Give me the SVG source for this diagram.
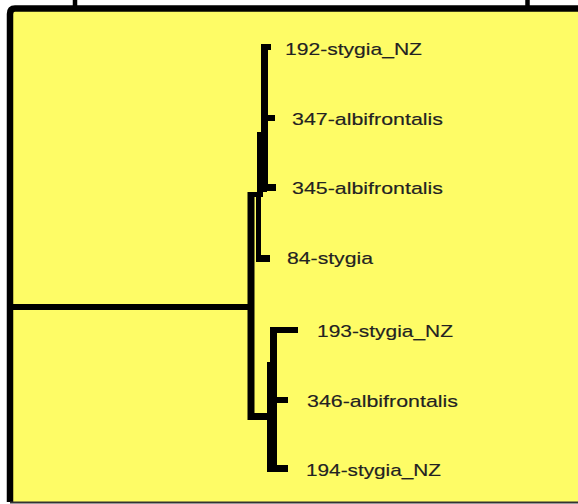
<svg xmlns="http://www.w3.org/2000/svg" width="578" height="504" viewBox="0 0 578 504">
<style>
.br{stroke:#000;fill:none;stroke-linecap:butt}
.lbl{font-family:"Liberation Sans",Arial,sans-serif;font-size:17px;fill:#222;stroke:#222;stroke-width:0.15}
</style>
<rect x="0" y="0" width="578" height="504" fill="#fff"/>
<rect x="10" y="9" width="570" height="493" fill="#FEFC66"/>
<rect x="75" y="-10" width="452.5" height="18.5" fill="#fff" stroke="#000" stroke-width="4.5"/>
<path d="M10,502 L10,14 Q10,8.5 15,8.5 L578,8.5" fill="none" stroke="#000" stroke-width="6.5"/>
<line x1="10" y1="502.5" x2="578" y2="502.5" stroke="#333" stroke-width="2"/>
<g id="connectors">
<line class="br" x1="13" y1="307" x2="254" y2="307" stroke-width="6"/>
<line class="br" x1="251" y1="192" x2="251" y2="420" stroke-width="7"/>
<line class="br" x1="248" y1="194.5" x2="263" y2="194.5" stroke-width="5"/>
<line class="br" x1="248" y1="416.5" x2="273" y2="416.5" stroke-width="7"/>
<line class="br" x1="264.5" y1="44" x2="264.5" y2="190" stroke-width="7"/>
<line class="br" x1="262" y1="132" x2="262" y2="192" stroke-width="10"/>
<line class="br" x1="258.5" y1="192" x2="258.5" y2="262" stroke-width="5"/>
<line class="br" x1="261" y1="47" x2="271" y2="47" stroke-width="6"/>
<line class="br" x1="264" y1="118" x2="275" y2="118" stroke-width="6"/>
<line class="br" x1="264" y1="187.5" x2="276" y2="187.5" stroke-width="7"/>
<line class="br" x1="256" y1="258.5" x2="270" y2="258.5" stroke-width="7"/>
<line class="br" x1="270" y1="330" x2="298" y2="330" stroke-width="6"/>
<line class="br" x1="273.5" y1="327" x2="273.5" y2="472" stroke-width="7"/>
<line class="br" x1="272" y1="362" x2="272" y2="472" stroke-width="10"/>
<line class="br" x1="273" y1="400" x2="288" y2="400" stroke-width="6"/>
<line class="br" x1="270" y1="468.5" x2="288" y2="468.5" stroke-width="7"/>
</g>
<g id="n192"><text class="lbl" x="285" y="55" textLength="137" lengthAdjust="spacingAndGlyphs">192-stygia_NZ</text></g>
<g id="n347"><text class="lbl" x="292" y="124.5" textLength="151" lengthAdjust="spacingAndGlyphs">347-albifrontalis</text></g>
<g id="n345"><text class="lbl" x="292" y="194" textLength="151" lengthAdjust="spacingAndGlyphs">345-albifrontalis</text></g>
<g id="n84"><text class="lbl" x="287" y="264" textLength="86" lengthAdjust="spacingAndGlyphs">84-stygia</text></g>
<g id="n193"><text class="lbl" x="317" y="337" textLength="136" lengthAdjust="spacingAndGlyphs">193-stygia_NZ</text></g>
<g id="n346"><text class="lbl" x="307" y="407" textLength="151" lengthAdjust="spacingAndGlyphs">346-albifrontalis</text></g>
<g id="n194"><text class="lbl" x="306" y="476" textLength="135" lengthAdjust="spacingAndGlyphs">194-stygia_NZ</text></g>
</svg>
